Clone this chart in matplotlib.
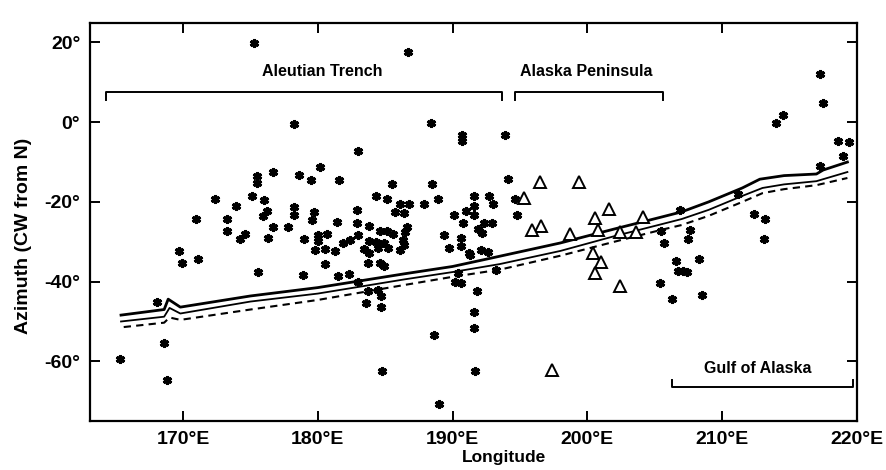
import matplotlib
matplotlib.use("Agg")
import matplotlib.pyplot as plt

plt.rcParams['font.family'] = ['Liberation Sans', 'DejaVu Sans']

# ===== DATA =====
star_lon = [175.3, 178.2, 175.5, 175.5, 176.7, 178.6, 172.4, 175.1, 176.0, 173.9,
            178.2, 178.2, 176.2, 175.9, 171.0, 173.3, 173.3, 174.6, 174.2, 176.7,
            177.8, 176.3, 169.7, 169.9, 171.1, 175.6, 168.1, 168.6, 165.3, 168.8,
            186.7, 188.4, 190.7, 190.7, 193.9, 183.0, 180.2, 179.5, 181.6, 185.5,
            188.5, 194.1, 184.3, 185.1, 186.1, 186.8, 187.9, 188.9, 191.6, 192.7,
            193.0, 194.6, 194.8, 179.7, 179.6, 182.9, 182.9, 181.4, 183.8, 184.6,
            185.1, 185.6, 186.6, 186.5, 189.4, 190.6, 190.1, 191.0, 190.8, 191.6,
            191.6, 192.3, 191.9, 192.2, 192.9, 179.0, 180.0, 180.7, 185.7, 186.4,
            180.0, 181.9, 182.4, 183.0, 183.8, 184.3, 184.9, 186.3, 186.4, 179.8,
            180.5, 181.3, 183.4, 183.8, 184.5, 185.2, 186.1, 180.5, 183.7, 184.6,
            184.9, 178.9, 181.5, 182.3, 183.0, 183.7, 184.5, 184.7, 183.6, 184.7,
            189.7, 190.6, 191.2, 192.1, 192.6, 190.2, 190.6, 191.8, 191.6, 191.6,
            188.6, 191.7, 184.8, 189.0, 193.2, 190.4, 191.3,
            217.3, 217.5, 214.5, 214.0, 218.6, 219.4, 219.0, 217.3, 211.2, 206.9,
            212.4, 213.2, 213.1, 205.5, 205.7, 207.6, 207.5, 206.6, 206.7, 207.1,
            207.4, 208.3, 205.4, 206.3, 208.5]
star_az = [19.8, -0.4, -13.5, -15.3, -12.4, -13.3, -19.2, -18.4, -19.4, -21.1,
           -21.2, -23.3, -22.3, -23.6, -24.3, -24.3, -27.2, -28.1, -29.4, -26.3,
           -26.3, -29.0, -32.4, -35.3, -34.3, -37.6, -45.2, -55.4, -59.4, -64.6,
           17.7, -0.1, -3.3, -4.6, -3.2, -7.3, -11.3, -14.4, -14.5, -15.4,
           -15.4, -14.3, -18.4, -19.2, -20.4, -20.4, -20.5, -19.3, -18.4, -18.5,
           -20.4, -19.2, -23.4, -22.5, -24.6, -22.1, -25.2, -25.1, -26.1, -27.4,
           -27.4, -28.1, -26.3, -27.5, -28.3, -29.0, -23.4, -22.3, -25.3, -21.1,
           -23.2, -25.2, -26.8, -27.9, -25.2, -29.2, -28.4, -28.0, -22.6, -22.7,
           -29.7, -30.2, -29.6, -28.2, -29.9, -30.0, -30.3, -29.6, -30.9, -32.1,
           -31.8, -32.2, -31.9, -32.7, -31.6, -31.6, -32.1, -35.5, -35.3, -35.3,
           -36.2, -38.4, -38.5, -38.1, -40.2, -42.4, -42.0, -43.7, -45.3, -46.4,
           -31.5, -31.1, -32.8, -32.0, -32.5, -40.2, -40.3, -42.4, -47.7, -51.6,
           -53.5, -62.4, -62.4, -70.6, -37.0, -37.8, -33.3,
           12.0, 4.9, 1.75, -0.3, -4.75, -5.05, -8.4, -11.1, -17.9, -22.0,
           -23.0, -24.2, -29.4, -27.3, -30.3, -27.0, -29.4, -34.9, -37.4, -37.3,
           -37.5, -34.4, -40.3, -44.3, -43.4]

tri_lon = [197.4, 200.4, 201.0, 200.6, 202.4, 196.5, 195.3, 196.6, 195.9,
           199.4, 198.7, 200.6, 200.8, 201.6, 204.1, 202.4, 203.6]
tri_az = [-62.1, -32.9, -35.0, -37.9, -41.1, -15.0, -18.9, -26.0, -27.0,
          -14.9, -28.1, -24.0, -27.1, -21.7, -23.9, -27.6, -27.5]

upper_lon = [165.4, 168.6, 168.9, 169.8, 175.0, 180.0, 186.5, 190.0, 193.0, 198.0,
             202.0, 205.5, 207.0, 209.0, 211.5, 212.8, 214.6, 217.0, 217.5, 219.3]
upper_az = [-48.4, -47.0, -44.4, -46.4, -43.6, -41.5, -38.0, -36.2, -34.0, -30.3,
            -26.8, -23.8, -22.5, -20.0, -16.5, -14.3, -13.4, -13.0, -12.0, -10.0]

middle_lon = [165.4, 168.6, 169.0, 169.8, 175.0, 180.0, 186.5, 190.0, 193.5, 198.0,
              202.0, 205.5, 207.0, 209.0, 211.5, 213.0, 214.6, 217.0, 219.3]
middle_az = [-50.0, -48.8, -46.6, -48.0, -45.0, -43.0, -39.4, -37.6, -35.6, -32.3,
             -28.6, -25.6, -24.3, -22.0, -18.5, -16.5, -15.6, -14.8, -12.5]

dashed_lon = [165.6, 168.6, 169.0, 169.8, 175.0, 180.0, 186.5, 190.0, 193.5, 198.0,
              202.0, 205.5, 207.0, 209.0, 211.5, 213.0, 214.6, 217.0, 219.3]
dashed_az = [-51.4, -50.3, -49.0, -49.6, -47.0, -44.6, -40.8, -38.8, -37.0, -33.5,
             -30.0, -27.0, -25.8, -23.5, -20.0, -17.8, -16.8, -15.8, -14.0]

regions = ["Aleutian Trench", "Alaska Peninsula", "Gulf of Alaska"]
region_start = [164.25, 194.6, 206.3]
region_end = [193.7, 205.65, 219.7]
region_level = [7.6, 7.6, -66.5]
region_tick = [-2.0, -2.0, 1.8]
label_lon = [180.3, 199.9, 212.65]
label_az = [12.8, 12.6, -61.9]

xticks = [170, 180, 190, 200, 210, 220]
xticklabels = ["170°E", "180°E", "190°E", "200°E", "210°E", "220°E"]
yticks = [-60, -40, -20, 0, 20]
yticklabels = ["-60°", "-40°", "-20°", "0°", "20°"]

# ===== PLOT =====
fig = plt.figure(figsize=(8.87, 4.70), dpi=100)
ax = fig.add_axes([0.1015, 0.104, 0.8645, 0.848])

ax.plot(upper_lon, upper_az, color="black", lw=2.0)
ax.plot(middle_lon, middle_az, color="black", lw=1.3)
ax.plot(dashed_lon, dashed_az, color="black", lw=1.5, dashes=(3.5, 2.5))

ax.plot(star_lon, star_az, linestyle="none", marker=(6, 2, 0), ms=6.5,
        mew=2.2, color="black")
ax.plot(tri_lon, tri_az, linestyle="none", marker="^", ms=8, mfc="white",
        mec="black", mew=1.4)

for name, x0, x1, lev, tk, lx, ly in zip(regions, region_start, region_end,
                                         region_level, region_tick,
                                         label_lon, label_az):
    ax.plot([x0, x0, x1, x1], [lev + tk, lev, lev, lev + tk], color="black", lw=1.4)
    ax.text(lx, ly, name, ha="center", va="center", fontsize=11.5, fontweight="bold")

ax.set_xlim(163.1, 220)
ax.set_ylim(-75, 25)
ax.set_xticks(xticks)
ax.set_xticklabels(xticklabels, fontsize=14, fontweight="bold")
ax.set_yticks(yticks)
ax.set_yticklabels(yticklabels, fontsize=14, fontweight="bold")
ax.tick_params(direction="in", length=7, width=1.4, top=True, right=True, pad=7)

for s in ax.spines.values():
    s.set_linewidth(1.6)

ax.set_xlabel("Longitude", fontsize=12.5, fontweight="bold")
ax.set_ylabel("Azimuth (CW from N)", fontsize=14, fontweight="bold")
ax.xaxis.set_label_coords(0.54, -0.072)
ax.yaxis.set_label_coords(-0.076, 0.465)

fig.savefig("out.png", dpi=100)
